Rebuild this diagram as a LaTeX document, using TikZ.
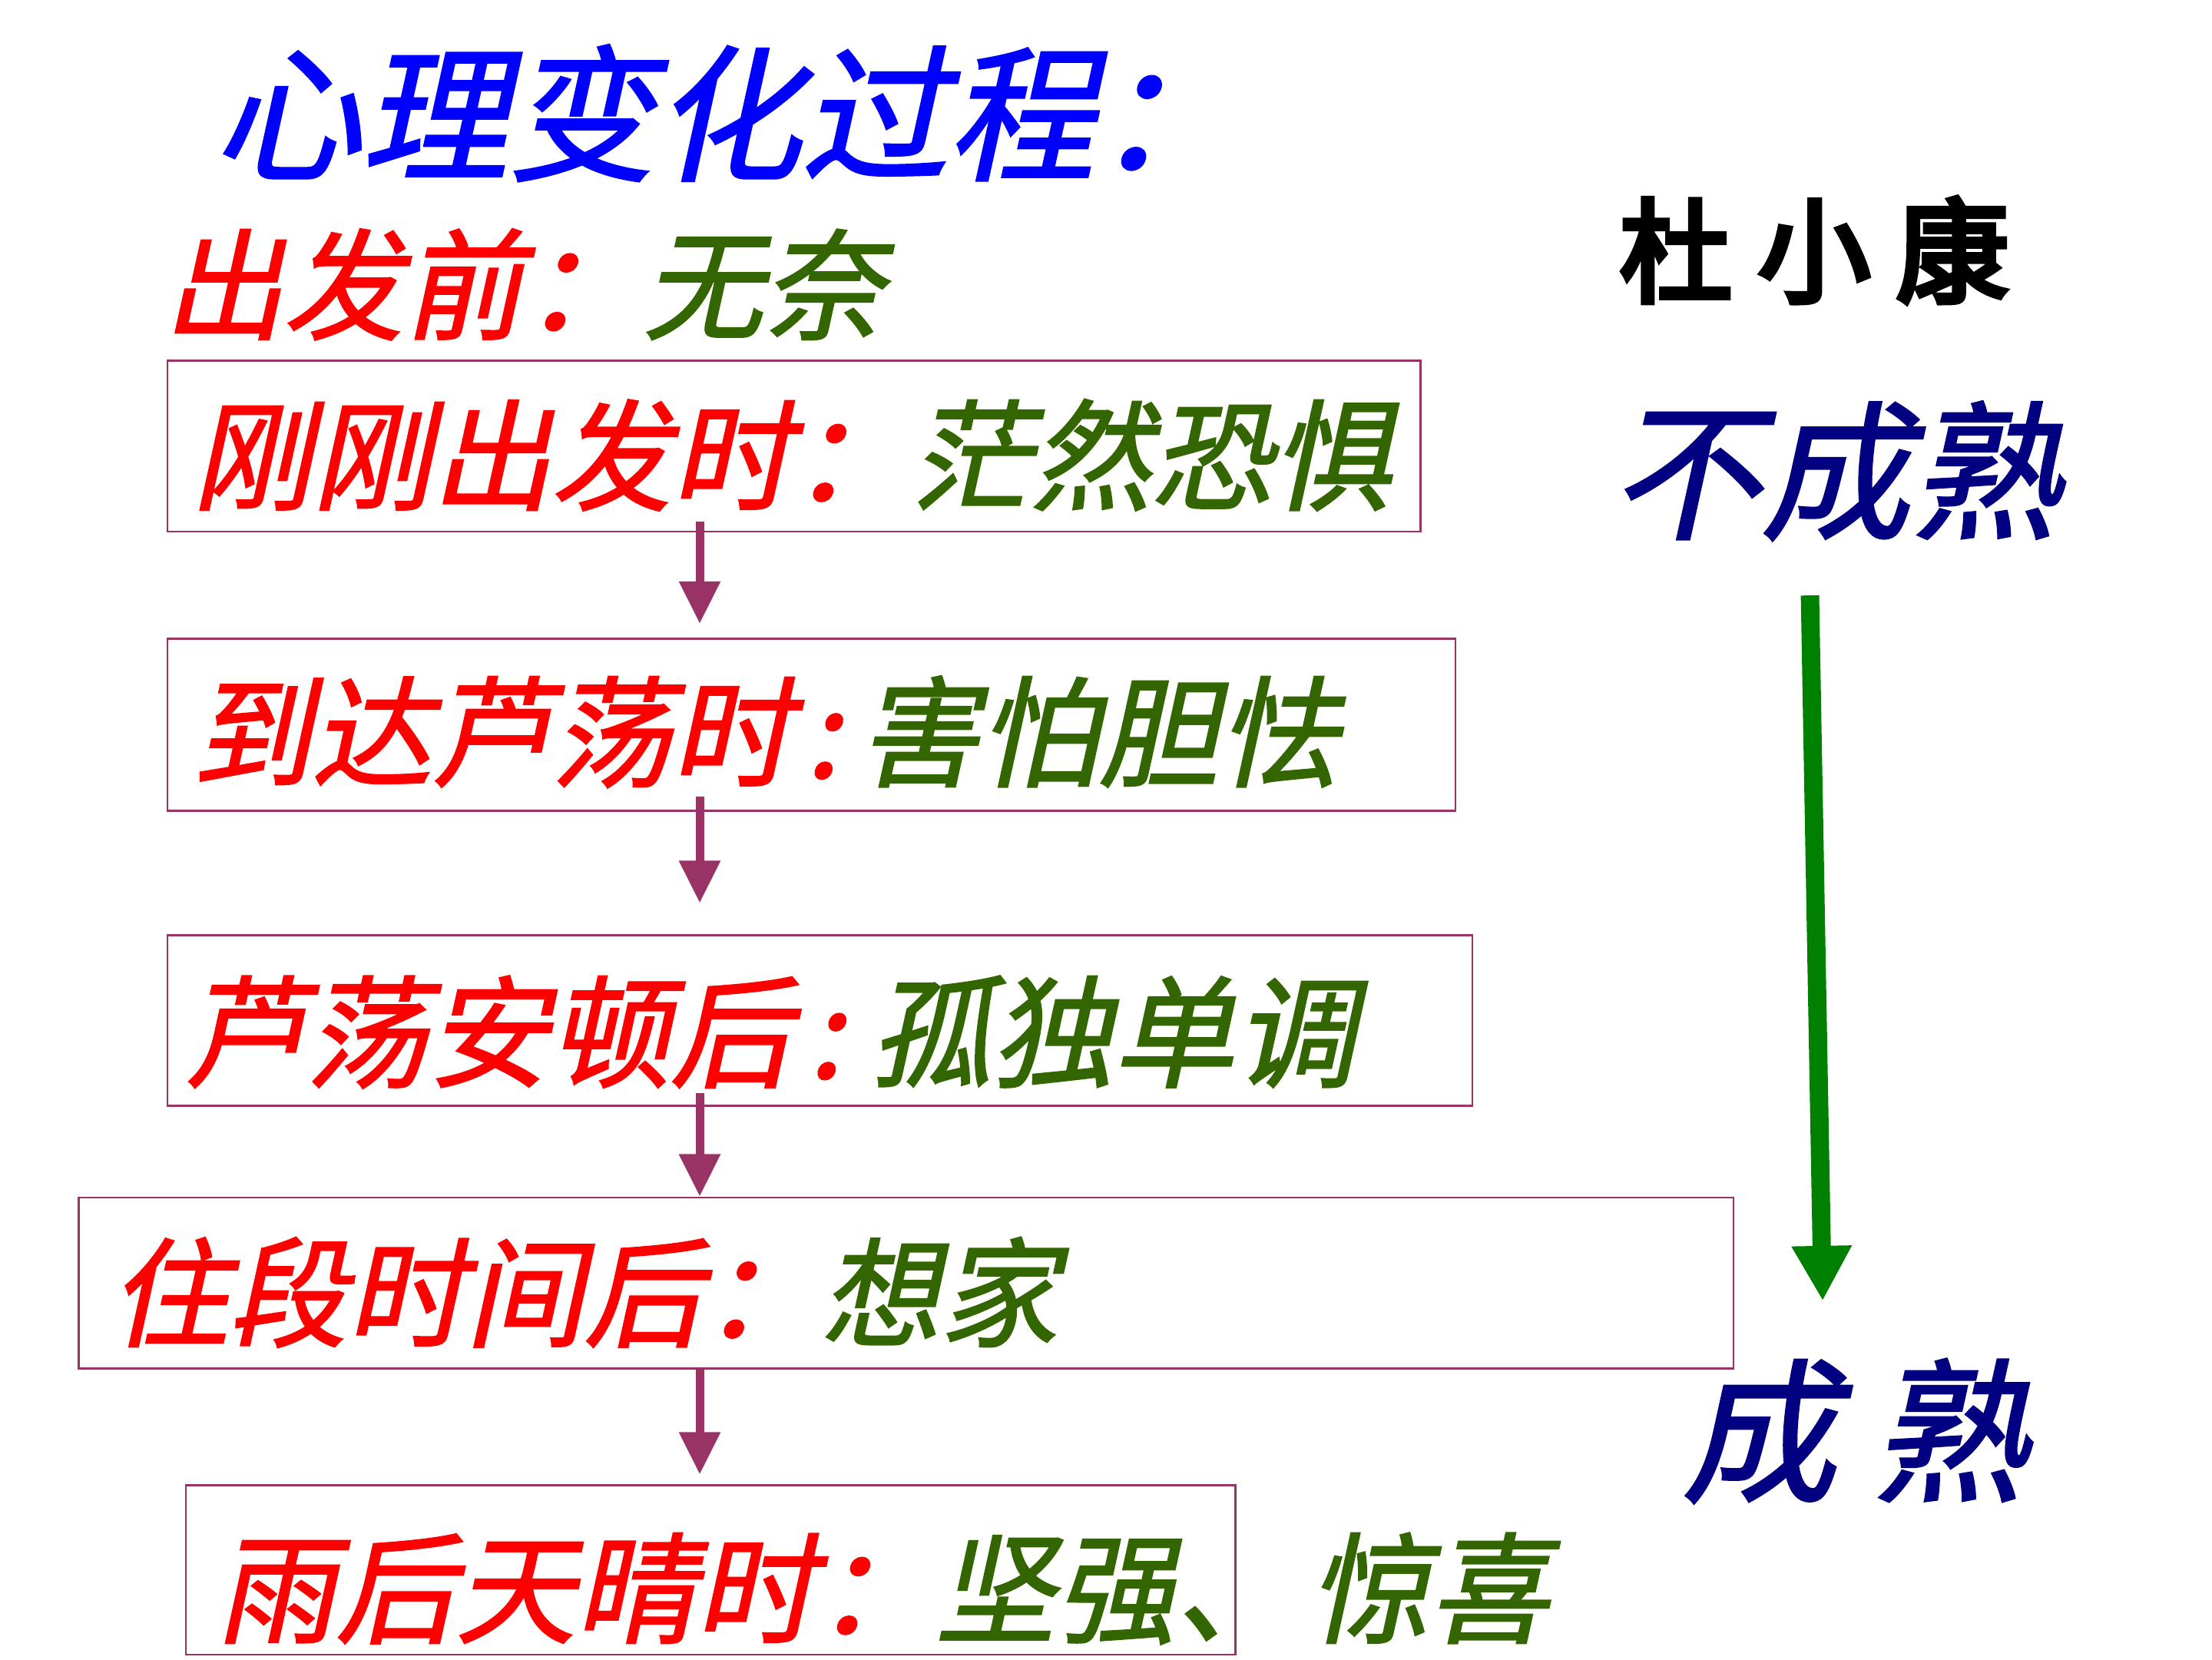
\documentclass[tikz,border=0pt]{standalone}
\usepackage{fontspec}
\usetikzlibrary{arrows.meta}
\newfontfamily\cjk[FakeSlant=0.22,FakeBold=1.5]{Noto Sans CJK SC}
\newfontfamily\cjkheavy[FakeBold=5]{Noto Sans CJK SC}
\newcommand\myfs[1]{\fontsize{#1pt}{#1pt}\selectfont}
\definecolor{myred}{RGB}{255,0,0}
\definecolor{mygreen}{RGB}{51,102,0}
\definecolor{myblue}{RGB}{0,0,255}
\definecolor{mynavy}{RGB}{0,0,128}
\definecolor{boxline}{RGB}{153,51,102}
\definecolor{bigarrow}{RGB}{0,128,0}
\begin{document}
\begin{tikzpicture}[x=1pt,y=-1pt,
  txt/.style={anchor=base west, inner sep=0pt, outer sep=0pt},
  stagebox/.style={draw=boxline, line width=1.5pt, inner sep=0pt, anchor=north west},
  flow/.style={draw=boxline, line width=6pt, -{Triangle[width=28pt,length=30pt]}},
  red/.style={text=myred}]
\useasboundingbox (0,0) rectangle (1568,1176);

% title
\node[txt, font=\cjk\myfs{104}, text=myblue] (title) at (152,120) {心理变化过程：};
\node[txt, font=\cjk\myfs{85}] (pre) at (116,234) {\textcolor{myred}{出发前：}\textcolor{mygreen}{无奈}};

% boxes
\node[stagebox, minimum width=888pt, minimum height=121pt] (b1) at (118,255) {};
\node[stagebox, minimum width=913pt, minimum height=122pt] (b2) at (118,452) {};
\node[stagebox, minimum width=925pt, minimum height=121pt] (b3) at (118,662) {};
\node[stagebox, minimum width=1173pt, minimum height=121pt] (b4) at (55,848) {};
\node[stagebox, minimum width=744pt, minimum height=120pt] (b5) at (131,1052) {};

% box texts
\node[txt, font=\cjk\myfs{85}] (t1) at (136,355) {\textcolor{myred}{刚刚出发时：}\textcolor{mygreen}{茫然恐惧}};
\node[txt, font=\cjk\myfs{85}] (t2) at (136,551) {\textcolor{myred}{到达芦荡时\hspace{10pt}:}\hspace{14pt}\textcolor{mygreen}{害怕胆怯}};
\node[txt, font=\cjk\myfs{86}] (t3) at (131,764) {\textcolor{myred}{芦荡安顿后\hspace{12pt}:}\hspace{20pt}\textcolor{mygreen}{孤独单调}};
\node[txt, font=\cjk\myfs{84}] (t4) at (78,948) {\textcolor{myred}{住段时间后：}\textcolor{mygreen}{想家}};
\node[txt, font=\cjk\myfs{85}] (t5) at (153,1158) {\textcolor{myred}{雨后天晴时：}\textcolor{mygreen}{坚强、\hspace{10pt}惊喜}};

% flow arrows
\coordinate (ax) at (496,0);
\draw[flow] ([yshift=8pt]b1.south -| ax) -- ([yshift=10pt]b2.north -| ax);
\draw[flow] ([yshift=11pt]b2.south -| ax) -- ([yshift=22pt]b3.north -| ax);
\draw[flow] ([yshift=10pt]b3.south -| ax) -- (b4.north -| ax);
\draw[flow] (b4.south -| ax) -- ([yshift=7pt]b5.north -| ax);

% right side
\node[txt, font=\cjkheavy\myfs{80}, text=black] (name) at (1148,208) {杜\hspace{18pt}小\hspace{18pt}康};
\node[txt, font=\cjk\myfs{106}, text=mynavy] (immature) at (1142,374) {不成熟};
\node[txt, font=\cjk\myfs{110}, text=mynavy] (mature) at (1192,1056) {成 熟};

\coordinate (g1) at (1283,422);
\coordinate (g2) at (1292,922);
\draw[draw=bigarrow, line width=13pt, -{Triangle[width=40pt,length=39pt]}] (g1) -- (g2);
\end{tikzpicture}
\end{document}
